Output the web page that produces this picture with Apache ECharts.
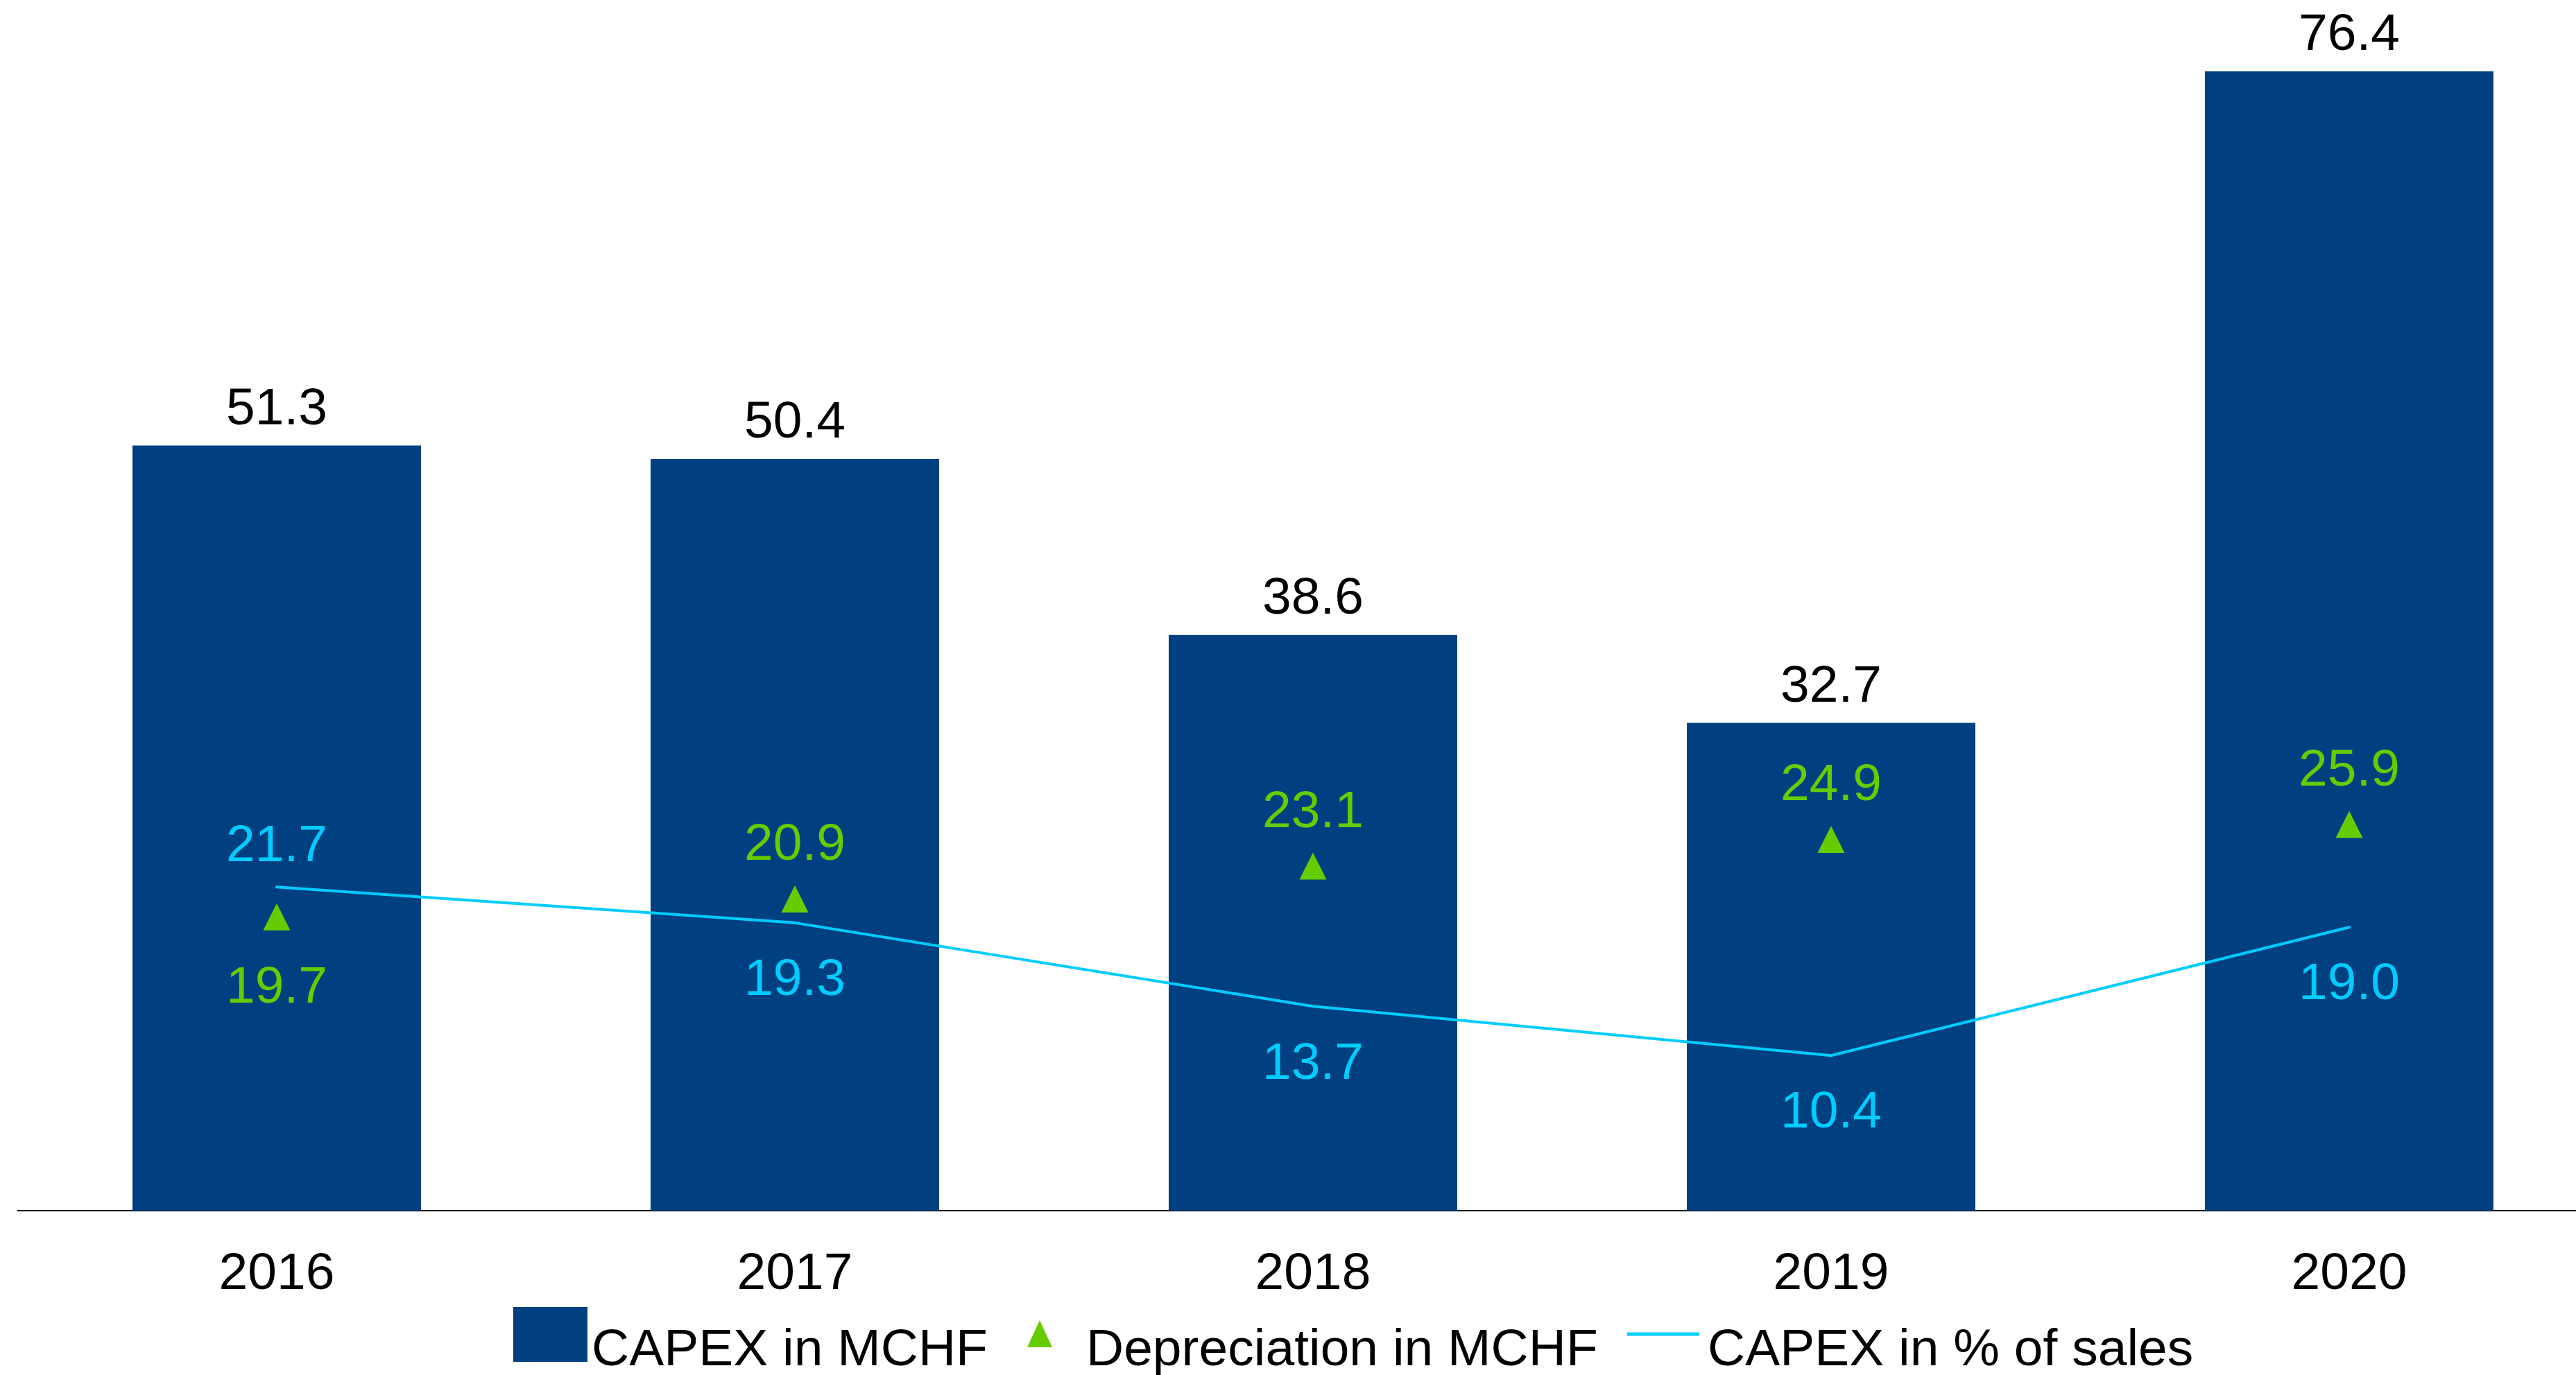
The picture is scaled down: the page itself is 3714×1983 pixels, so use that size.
<!DOCTYPE html>
<html>
<head>
<meta charset="utf-8">
<title>CAPEX</title>
<script src="https://cdn.jsdelivr.net/npm/echarts@6/dist/echarts.min.js"></script>
<style>
    html, body { margin: 0; padding: 0; background: #fff; }
    #chart { width: 3714px; height: 1983px; }
</style>
</head>
<body>
<div id="chart"></div>
<script>
const years = ['2016', '2017', '2018', '2019', '2020'];
const capex = [51.3, 50.4, 38.6, 32.7, 76.4];
const depreciation = [19.7, 20.9, 23.1, 24.9, 25.9];
const capexPct = [21.7, 19.3, 13.7, 10.4, 19.0];

const BLUE = '#004080';
const GREEN = '#66CC00';
const CYAN = '#00CCFF';
const FONT = 'Liberation Sans, Arial, sans-serif';
const FS = 75;

// the upper value of the pair gets its label above, the lower one below
function pointItems(values, others, color, distUp, distDown) {
    return values.map(function (v, i) {
        const up = v > others[i];
        return {
            value: v,
            label: {
                show: true,
                position: up ? 'top' : 'bottom',
                distance: up ? distUp : distDown,
                color: color,
                fontSize: FS,
                fontFamily: FONT,
                lineHeight: FS,
                formatter: function () { return v.toFixed(1); }
            }
        };
    });
}

// icons are paths with an empty tail below, so the text sits lower than the icon
function legendAt(left, top, name, w, h, icon, padLeft, color) {
    return {
        left: left,
        top: top,
        padding: 0,
        selectedMode: false,
        itemWidth: w,
        itemHeight: h,
        symbolKeepAspect: false,
        itemStyle: { color: color },
        textStyle: { color: '#000', fontSize: FS, fontFamily: FONT, lineHeight: FS, padding: [0, 0, 0, padLeft] },
        data: [{ name: name, icon: icon }]
    };
}

let myChart = echarts.init(document.getElementById('chart'));
myChart.setOption({
    animation: false,
    backgroundColor: '#fff',
    textStyle: { fontFamily: FONT },
    grid: { left: 25.5, top: 25.2, width: 3735, height: 1720.8, outerBoundsMode: 'none', containLabel: false },
    legend: [
        legendAt(740, 1885, 'CAPEX in MCHF', 107, 127, 'path://M0,0H107V79H0Z M0,127', 1, BLUE),
        legendAt(1481, 1904, 'Depreciation in MCHF', 36, 89, 'path://M18,0L36,39L0,39Z M0,89', 44, GREEN),
        legendAt(2346, 1911, 'CAPEX in % of sales', 104, 54, 'path://M0,0H104V5H0Z M0,54', 7, CYAN)
    ],
    xAxis: {
        type: 'category',
        data: years,
        axisTick: { show: false },
        axisLine: { lineStyle: { color: '#000', width: 2 } },
        axisLabel: { color: '#000', fontSize: FS, fontFamily: FONT, margin: 55 }
    },
    yAxis: {
        type: 'value',
        min: 0,
        max: 80,
        show: false,
        splitLine: { show: false }
    },
    series: [
        {
            name: 'CAPEX in MCHF',
            type: 'bar',
            data: capex,
            barWidth: 416,
            color: BLUE,
            itemStyle: { color: BLUE },
            label: {
                show: true,
                position: 'top',
                distance: 14,
                color: '#000',
                fontSize: FS,
                fontFamily: FONT,
                lineHeight: FS,
                formatter: function (p) { return capex[p.dataIndex].toFixed(1); }
            }
        },
        {
            name: 'CAPEX in % of sales',
            type: 'line',
            data: pointItems(capexPct, depreciation, CYAN, 18, 44),
            color: CYAN,
            symbol: 'circle',
            symbolSize: 4,
            itemStyle: { color: CYAN },
            lineStyle: { color: CYAN, width: 4 },
            z: 3
        },
        {
            name: 'Depreciation in MCHF',
            type: 'scatter',
            data: pointItems(depreciation, capexPct, GREEN, 20, 46),
            color: GREEN,
            symbol: 'triangle',
            symbolSize: [39, 39],
            itemStyle: { color: GREEN, opacity: 1 },
            z: 4
        }
    ]
});
</script>
</body>
</html>
